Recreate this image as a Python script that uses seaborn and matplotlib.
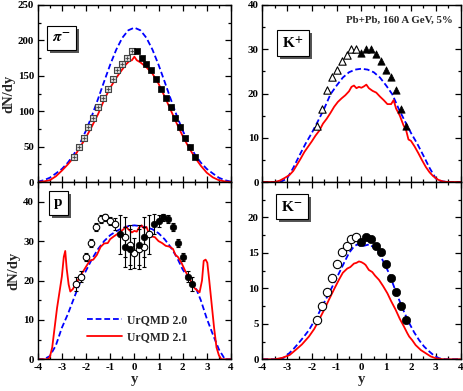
import numpy as np
import pandas as pd
import matplotlib
matplotlib.use('Agg')
import matplotlib.pyplot as plt
import seaborn as sns
from matplotlib.ticker import MultipleLocator, FuncFormatter
import matplotlib.transforms as mtransforms
from matplotlib.patches import Rectangle

sns.set_theme(style='white')
plt.rcParams['font.family'] = ['Liberation Serif', 'DejaVu Serif']
plt.rcParams['mathtext.fontset'] = 'stix'
plt.rcParams['font.weight'] = 'bold'

# ---------------- data ----------------
# pi-
pi_v20_x = [-4, -3.75, -3.5, -3.25, -3, -2.75, -2.5, -2.25, -2, -1.75, -1.5, -1.25, -1, -0.75, -0.5, -0.25, 0,
            0.25, 0.5, 0.75, 1, 1.25, 1.5, 1.75, 2, 2.25, 2.5, 2.75, 3, 3.25, 3.5, 3.75, 4]
pi_v20_y = [0.5, 2.5, 6, 12, 18.4, 27.4, 39.2, 54.4, 72.8, 94.1, 117.6, 142, 165.7, 186.9, 203.6, 214.3, 218,
            214.3, 203.6, 186.9, 165.7, 142, 117.6, 94.1, 72.8, 54.4, 39.2, 27.4, 18.4, 12, 6, 2.5, 0.5]
pi_v21_x = [-4, -3.75, -3.5, -3.25, -3, -2.75, -2.5, -2.25, -2, -1.75, -1.5, -1.25, -1, -0.75, -0.5, -0.35, -0.2,
            -0.1, 0, 0.1, 0.25, 0.5, 0.75, 1, 1.25, 1.5, 1.75, 2, 2.25, 2.5, 2.75, 3, 3.25, 3.5, 3.75, 4]
pi_v21_y = [0, 0.8, 2.5, 8, 16, 25, 35, 49, 63, 79, 96, 116, 133, 147, 159, 166, 171,
            172, 177, 172, 169, 162, 153, 139, 121, 102, 83, 65, 49, 35, 23, 13, 6.5, 2.5, 0.8, 0]
pi_open_x = [-2.5, -2.3, -2.1, -1.9, -1.7, -1.5, -1.3, -1.1, -0.9, -0.7, -0.5, -0.3, -0.1]
pi_open_y = [35, 49, 62, 77, 91, 106, 119, 132, 146, 158, 166, 175, 185]
pi_fill_x = [0.1, 0.3, 0.5, 0.7, 0.9, 1.1, 1.3, 1.5, 1.7, 1.9, 2.1, 2.3, 2.5]
pi_fill_y = [185, 175, 166, 158, 146, 132, 119, 106, 91, 77, 62, 49, 35]

# K+
kp_v20_x = [-4, -3.5, -3.2, -3.0, -2.75, -2.5, -2.25, -2.0, -1.75, -1.5, -1.25, -1.0, -0.75, -0.5, -0.25, 0,
            0.25, 0.5, 0.75, 1.0, 1.25, 1.5, 1.75, 2.0, 2.25, 2.5, 2.75, 3.0, 3.2, 3.5, 4]
kp_v20_y = [0, 0, 0.2, 0.8, 3.2, 6.0, 8.7, 11.1, 13.8, 16.6, 19.8, 21.8, 23.6, 24.8, 25.4, 25.6,
            25.4, 24.8, 23.6, 21.8, 19.8, 16.6, 13.8, 11.1, 8.7, 6.0, 3.2, 0.8, 0.2, 0, 0]
kp_v21_x = [-4, -3.5, -3.3, -3.1, -2.9, -2.75, -2.6, -2.45, -2.3, -2.15, -2.0, -1.85, -1.7, -1.55, -1.4, -1.25,
            -1.1, -0.95, -0.8, -0.65, -0.5, -0.4, -0.3, -0.2, -0.1, 0.0, 0.1, 0.2, 0.3, 0.45, 0.6, 0.75, 0.9,
            1.05, 1.2, 1.3, 1.4, 1.55, 1.7, 1.8, 1.9, 2.0, 2.15, 2.3, 2.45, 2.6, 2.75, 2.9, 3.1, 3.3, 3.5, 4.0]
kp_v21_y = [0, 0, 0.3, 0.9, 1.6, 2.5, 3.9, 5.3, 6.8, 8.0, 9.2, 10.5, 11.6, 13.2, 14.3, 15.6,
            17.0, 18.1, 18.9, 19.6, 20.5, 21.5, 21.8, 21.2, 21.5, 21.3, 21.6, 22.0, 21.2, 20.6, 20.2, 19.3, 18.5,
            17.6, 17.6, 18.5, 16.6, 15.0, 12.8, 11.8, 9.6, 9.3, 8.0, 6.5, 4.9, 3.4, 2.2, 1.3, 0.5, 0.1, 0, 0]
kp_open_x = [-1.8, -1.6, -1.4, -1.2, -1.0, -0.8, -0.6, -0.4, -0.2]
kp_open_y = [12.6, 16.5, 20.8, 23.7, 25.2, 27.3, 28.7, 30.0, 30.0]
kp_fill_x = [0.0, 0.2, 0.4, 0.6, 0.8, 1.0, 1.2, 1.4, 1.6, 1.8]
kp_fill_y = [29.2, 30.1, 30.1, 29.0, 27.4, 25.4, 23.8, 20.8, 16.5, 12.6]

# protons
p_v20_x = [-4, -3.75, -3.5, -3.25, -3, -2.75, -2.5, -2.25, -2, -1.75, -1.5, -1.25, -1, -0.75, -0.5, -0.25, 0,
           0.25, 0.5, 0.75, 1, 1.25, 1.5, 1.75, 2, 2.25, 2.5, 2.75, 3, 3.25, 3.5, 3.75, 4]
p_v20_y = [0, 0, 0.8, 3.5, 8, 11.5, 15.5, 19.5, 22.5, 25.5, 28, 30, 31.5, 32.5, 33.3, 33.8, 34.0,
           33.8, 33.5, 33, 32, 30.5, 28.5, 26, 22.8, 20.5, 18.8, 15, 10.3, 6.3, 2.5, 0, 0]
p_v21_x = [-4.0, -3.6, -3.5, -3.4, -3.3, -3.2, -3.1, -3.0, -2.92, -2.86, -2.8, -2.72, -2.65, -2.55, -2.45, -2.3,
           -2.15, -2.0, -1.85, -1.7, -1.55, -1.4, -1.25, -1.1, -1.0, -0.85, -0.7, -0.55, -0.45, -0.35, -0.25,
           -0.1, 0.0, 0.1, 0.2, 0.3, 0.4, 0.5, 0.6, 0.7, 0.85, 1.0, 1.15, 1.3, 1.45, 1.6, 1.7, 1.8, 1.95, 2.1,
           2.25, 2.4, 2.5, 2.6, 2.7, 2.8, 2.87, 2.95, 3.02, 3.1, 3.2, 3.3, 3.4, 3.5, 3.6, 4.0]
p_v21_y = [0, 0, 0.5, 3, 8, 13, 17, 21, 26, 27.5, 23, 19, 17.2, 17.8, 18.8, 20.5,
           22, 23.5, 25, 25.3, 26.5, 28.5, 29.4, 29.5, 30.5, 31.2, 31.8, 32.5, 33.0, 33.7, 33.0,
           32.2, 32.6, 32.4, 33.5, 34.0, 33.2, 33.6, 32.0, 31.2, 31.0, 30.0, 29.5, 28.8, 28.6, 28.0, 26.5, 26.0, 24.5, 22.5,
           20.8, 19.2, 18.0, 17.5, 17.0, 20, 25, 25.3, 24.5, 20, 14, 8, 3, 1, 0, 0]
p_open_x = [-2.4, -2.2, -2.0, -1.8, -1.6, -1.4, -1.2, -1.0, -0.8, -0.4, -0.2, 0.0, 0.2, 0.4, 0.6]
p_open_y = [19.2, 21.0, 26.0, 29.5, 33.5, 35.5, 36.0, 35.0, 34.3, 31.0, 29.0, 27.0, 28.0, 28.5, 31.7]
p_open_e = [1.8, 1.5, 1.0, 1.0, 1.0, 1.0, 1.0, 1.0, 1.5, 5.0, 5.0, 3.8, 5.0, 5.0, 5.0]
p_fill_x = [-0.6, -0.4, -0.2, 0.2, 0.4, 0.8, 1.0, 1.2, 1.4, 1.6, 1.8, 2.0, 2.2, 2.4]
p_fill_y = [31.7, 28.5, 28.0, 29.0, 31.0, 34.3, 35.0, 36.0, 35.5, 33.5, 29.5, 26.0, 21.0, 19.2]
p_fill_e = [5.0, 5.0, 5.0, 5.0, 5.0, 2.5, 1.5, 1.0, 1.0, 1.0, 1.0, 1.0, 1.5, 1.8]

# K-
km_v20_x = [-4, -3.4, -3.14, -2.93, -2.73, -2.53, -2.32, -2.12, -1.92, -1.72, -1.52, -1.31, -1.11, -0.91, -0.7,
            -0.5, -0.3, -0.17, 0.0, 0.1, 0.31, 0.5, 0.71, 0.91, 1.12, 1.32, 1.52, 1.72, 1.93, 2.13, 2.33, 2.53,
            2.74, 2.94, 3.14, 3.4, 4]
km_v20_y = [0, 0, 0.2, 0.8, 1.5, 2.3, 3.2, 4.1, 5.3, 6.5, 7.9, 9.3, 10.7, 12.1, 13.6,
            15.0, 15.9, 16.2, 15.9, 16.0, 16.2, 15.8, 15.0, 13.6, 12.1, 10.2, 8.4, 6.7, 5.1, 3.8, 2.7, 1.8,
            1.1, 0.5, 0.15, 0, 0]
km_v21_x = [-4, -3.5, -3.2, -2.9, -2.66, -2.4, -2.12, -1.9, -1.72, -1.5, -1.31, -1.1, -0.91, -0.75, -0.57, -0.45,
            -0.3, -0.2, -0.1, 0.0, 0.1, 0.17, 0.3, 0.44, 0.55, 0.71, 0.88, 1.05, 1.2, 1.38, 1.55, 1.72, 1.85,
            1.93, 2.05, 2.19, 2.4, 2.6, 2.8, 3.0, 3.3, 4]
km_v21_y = [0, 0, 0.2, 0.6, 1.3, 2.1, 3.2, 4.3, 5.5, 7.0, 8.4, 9.9, 11.2, 12.2, 12.8, 13.0,
            13.5, 13.6, 13.8, 13.7, 13.5, 13.3, 12.6, 12.3, 11.8, 11.2, 10.3, 9.3, 8.2, 7.0, 5.7, 4.6, 3.7,
            3.2, 2.7, 2.0, 1.3, 0.85, 0.4, 0.15, 0, 0]
km_open_x = [-1.8, -1.6, -1.4, -1.2, -1.0, -0.8, -0.6, -0.4, -0.2]
km_open_y = [5.5, 7.5, 9.5, 11.4, 13.5, 15.1, 16.0, 16.9, 17.2]
km_fill_x = [0.0, 0.2, 0.4, 0.6, 0.8, 1.0, 1.2, 1.4, 1.6, 1.8]
km_fill_y = [16.6, 17.2, 16.9, 16.0, 15.1, 13.5, 11.4, 9.5, 7.5, 5.5]

x_ticks = [-4, -3, -2, -1, 0, 1, 2, 3, 4]
legend_labels = ['UrQMD 2.0', 'UrQMD 2.1']
panel_labels = [r'$\pi^{-}$', r'K$^{+}$', 'p', r'K$^{-}$']
title_text = 'Pb+Pb, 160 A GeV, 5%'

BLUE = '#0000ff'
RED = '#ff0000'

W, H = 463, 391
fig = plt.figure(figsize=(W / 100, H / 100), dpi=100)

def px_rect(x0, y0, x1, y1):
    return [x0 / W, 1 - y1 / H, (x1 - x0) / W, (y1 - y0) / H]

ax_pi = fig.add_axes(px_rect(37.7, 5, 231, 182))
ax_kp = fig.add_axes(px_rect(262.3, 5, 460.5, 182))
ax_p = fig.add_axes(px_rect(37.7, 182, 231, 359.3))
ax_km = fig.add_axes(px_rect(262.3, 182, 460.5, 359.3))

def style(ax, ymax, ymaj, show_x, hide_top_label=False):
    ax.set_xlim(-4, 4)
    ax.set_ylim(0, ymax)
    ax.xaxis.set_major_locator(MultipleLocator(1))
    ax.xaxis.set_minor_locator(MultipleLocator(0.5))
    ax.yaxis.set_major_locator(MultipleLocator(ymaj))
    ax.yaxis.set_minor_locator(MultipleLocator(ymaj / 2))
    if hide_top_label:
        ax.yaxis.set_major_formatter(FuncFormatter(
            lambda v, p: '' if v >= ymax - 1e-9 else '%g' % v))
    ax.tick_params(which='both', direction='in', top=True, right=True, bottom=True, left=True,
                   width=0.9, colors='black', labelsize=7.8, pad=2.5)
    ax.tick_params(which='major', length=4)
    ax.tick_params(which='minor', length=2.2)
    for s in ax.spines.values():
        s.set_color('black')
        s.set_linewidth(1.0)
    for lab in ax.get_xticklabels() + ax.get_yticklabels():
        lab.set_fontweight('bold')
    if not show_x:
        ax.tick_params(labelbottom=False)
    ax.set_facecolor('white')
    ax.grid(False)

def curves(ax, x20, y20, x21, y21):
    sns.lineplot(x=x20, y=y20, ax=ax, color=BLUE, lw=1.3, linestyle=(0, (3.2, 1.6)),
                 estimator=None, sort=False, label=legend_labels[0])
    sns.lineplot(x=x21, y=y21, ax=ax, color=RED, lw=1.3, estimator=None, sort=False,
                 label=legend_labels[1])

box_texts = []
def label_box(ax, txt, xf, yf):
    t = ax.text(xf, yf, txt, transform=ax.transAxes, fontsize=11, fontweight='bold', color='black',
                ha='left', va='top', zorder=6,
                bbox=dict(boxstyle='square,pad=0.35', fc='white', ec='black', lw=0.8))
    box_texts.append((ax, t))

# pi-
curves(ax_pi, pi_v20_x, pi_v20_y, pi_v21_x, pi_v21_y)
sns.scatterplot(x=pi_open_x, y=pi_open_y, ax=ax_pi, marker='s', s=18, color='#d8d8d8',
                edgecolor='#444444', linewidth=0.8, zorder=4)
sns.scatterplot(x=pi_open_x, y=pi_open_y, ax=ax_pi, marker='+', s=12, color='#444444',
                linewidth=0.6, zorder=5)
sns.scatterplot(x=pi_fill_x, y=pi_fill_y, ax=ax_pi, marker='s', s=18, color='black',
                edgecolor='black', linewidth=0.5, zorder=4)
style(ax_pi, 250, 50, False)
ax_pi.set_ylabel('dN/dy', fontsize=10.5, fontweight='bold', labelpad=2)
ax_pi.set_xlabel('')
ax_pi.get_legend().remove()
label_box(ax_pi, panel_labels[0], 0.075, 0.85)

# K+
curves(ax_kp, kp_v20_x, kp_v20_y, kp_v21_x, kp_v21_y)
sns.scatterplot(x=kp_open_x, y=kp_open_y, ax=ax_kp, marker='^', s=28, color='white',
                edgecolor='black', linewidth=0.8, zorder=4)
sns.scatterplot(x=kp_fill_x, y=kp_fill_y, ax=ax_kp, marker='^', s=28, color='black',
                edgecolor='black', linewidth=0.5, zorder=4)
style(ax_kp, 40, 10, False)
ax_kp.set_ylabel('')
ax_kp.set_xlabel('')
ax_kp.get_legend().remove()
label_box(ax_kp, panel_labels[1], 0.1, 0.83)
ax_kp.text(0.96, 0.915, title_text, transform=ax_kp.transAxes, ha='right', va='center',
           fontsize=7.8, fontweight='bold')

# protons
curves(ax_p, p_v20_x, p_v20_y, p_v21_x, p_v21_y)
ax_p.errorbar(p_open_x, p_open_y, yerr=p_open_e, fmt='none', ecolor='black', elinewidth=0.8,
              capsize=1.6, capthick=0.8, zorder=3)
ax_p.errorbar(p_fill_x, p_fill_y, yerr=p_fill_e, fmt='none', ecolor='black', elinewidth=0.8,
              capsize=1.6, capthick=0.8, zorder=3)
sns.scatterplot(x=p_open_x, y=p_open_y, ax=ax_p, marker='o', s=22, color='white',
                edgecolor='black', linewidth=0.8, zorder=4)
sns.scatterplot(x=p_fill_x, y=p_fill_y, ax=ax_p, marker='o', s=22, color='black',
                edgecolor='black', linewidth=0.5, zorder=4)
style(ax_p, 45, 10, True)
ax_p.set_ylabel('dN/dy', fontsize=10.5, fontweight='bold', labelpad=2)
ax_p.set_xlabel('y', fontsize=10.5, fontweight='bold', labelpad=1)
ax_p.set_xticks(x_ticks)
ax_p.set_xticklabels([str(t) for t in x_ticks], fontweight='bold')
leg = ax_p.legend(loc='lower left', bbox_to_anchor=(0.2, 0.03), frameon=False,
                  prop={'family': 'Liberation Serif', 'weight': 'bold', 'size': 8.5},
                  handlelength=3.0, handletextpad=0.4, labelspacing=0.45)
label_box(ax_p, panel_labels[2], 0.085, 0.92)

# K-
curves(ax_km, km_v20_x, km_v20_y, km_v21_x, km_v21_y)
sns.scatterplot(x=km_open_x, y=km_open_y, ax=ax_km, marker='o', s=36, color='white',
                edgecolor='black', linewidth=0.8, zorder=4)
sns.scatterplot(x=km_fill_x, y=km_fill_y, ax=ax_km, marker='o', s=36, color='black',
                edgecolor='black', linewidth=0.5, zorder=4)
style(ax_km, 25, 5, True, hide_top_label=True)
ax_km.set_ylabel('')
ax_km.set_xlabel('y', fontsize=10.5, fontweight='bold', labelpad=1)
ax_km.set_xticks(x_ticks)
ax_km.set_xticklabels([str(t) for t in x_ticks], fontweight='bold')
ax_km.get_legend().remove()
label_box(ax_km, panel_labels[3], 0.095, 0.9)

# drop shadows behind the label boxes
fig.canvas.draw()
renderer = fig.canvas.get_renderer()
for ax, t in box_texts:
    bb = t.get_bbox_patch().get_window_extent(renderer)
    ax.add_patch(Rectangle((bb.x0 + 3, bb.y0 - 3), bb.width, bb.height,
                           transform=mtransforms.IdentityTransform(), facecolor='#555555',
                           edgecolor='none', zorder=5.5, clip_on=False))

fig.savefig('out.png', dpi=100, facecolor='white')
